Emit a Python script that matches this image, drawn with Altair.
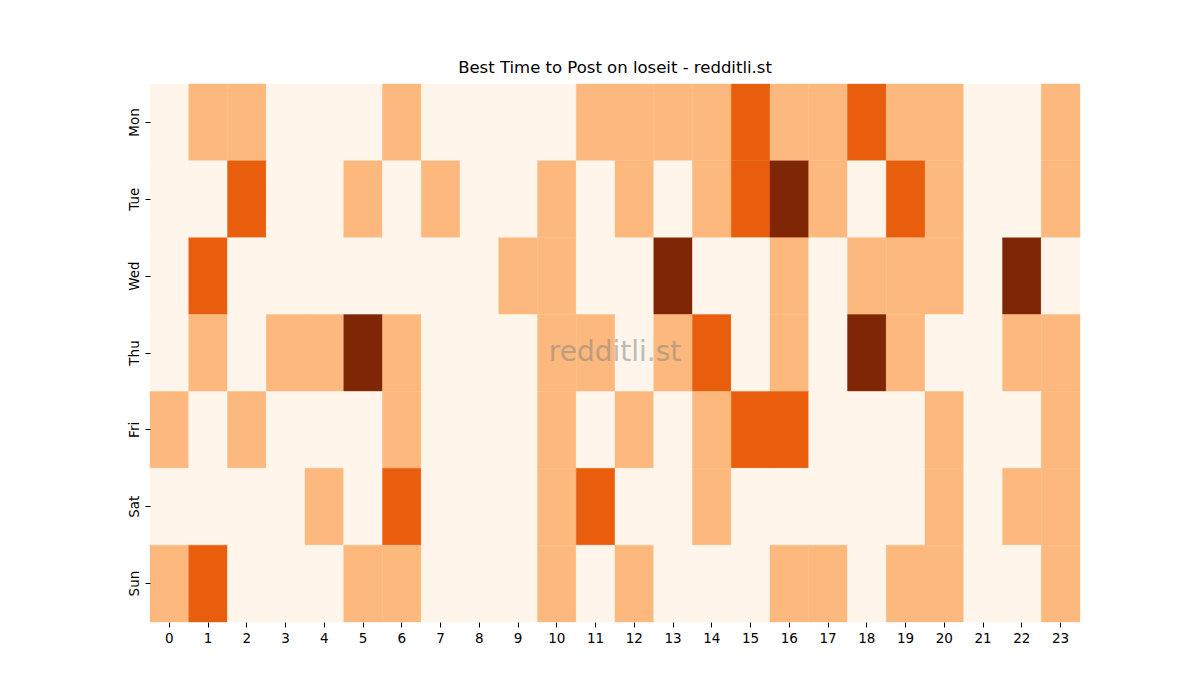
import altair as alt
import pandas as pd

days = ["Mon", "Tue", "Wed", "Thu", "Fri", "Sat", "Sun"]
hours = list(range(24))
# activity level per day (0..3) for hours 0..23
mon = [0,1,1,0,0,0,1,0,0,0,0,1,1,1,1,2,1,1,2,1,1,0,0,1]
tue = [0,0,2,0,0,1,0,1,0,0,1,0,1,0,1,2,3,1,0,2,1,0,0,1]
wed = [0,2,0,0,0,0,0,0,0,1,1,0,0,3,0,0,1,0,1,1,1,0,3,0]
thu = [0,1,0,1,1,3,1,0,0,0,1,1,0,1,2,0,1,0,3,1,0,0,1,1]
fri = [1,0,1,0,0,0,1,0,0,0,1,0,1,0,1,2,2,0,0,0,1,0,0,1]
sat = [0,0,0,0,1,0,2,0,0,0,1,2,0,0,1,0,0,0,0,0,1,0,1,1]
sun = [1,2,0,0,0,1,1,0,0,0,1,0,1,0,0,0,1,1,0,1,1,0,0,1]
levels = [0, 1, 2, 3]
level_colors = ["#fff5eb", "#fdb97d", "#e95e0d", "#7f2704"]

rows = []
for d, vals in zip(days, [mon, tue, wed, thu, fri, sat, sun]):
    for h, v in zip(hours, vals):
        rows.append({"day": d, "hour": h, "level": v})
df = pd.DataFrame(rows)

W, H = 930, 538
font = "DejaVu Sans"

cscale = alt.Scale(domain=levels, range=level_colors)

heat = alt.Chart(df).mark_rect(opacity=1, fillOpacity=1, strokeOpacity=1, strokeWidth=0.4).encode(
    x=alt.X("hour:O", sort=hours, title=None,
            scale=alt.Scale(paddingInner=0, paddingOuter=0),
            axis=alt.Axis(labelAngle=0, domain=False, tickSize=5, tickColor="#000",
                          labelFont=font, labelFontSize=13.5, labelColor="#000",
                          labelPadding=4)),
    y=alt.Y("day:O", sort=days, title=None,
            scale=alt.Scale(paddingInner=0, paddingOuter=0),
            axis=alt.Axis(labelAngle=-90, labelAlign="center", labelBaseline="bottom",
                          domain=False, tickSize=5, tickColor="#000",
                          labelFont=font, labelFontSize=13.5, labelColor="#000",
                          labelPadding=4)),
    color=alt.Color("level:O", scale=cscale, legend=None),
    stroke=alt.Stroke("level:O", scale=cscale, legend=None),
)

wm = alt.Chart(pd.DataFrame({"t": ["redditli.st"]})).mark_text(
    font=font, fontSize=28, color="#808080", opacity=0.5,
    align="center", baseline="middle"
).encode(x=alt.value(W / 2), y=alt.value(H / 2), text="t:N")

chart = alt.layer(heat, wm).properties(
    width=W, height=H,
    title=alt.TitleParams("Best Time to Post on loseit - redditli.st",
                          font=font, fontSize=16.5, fontWeight="normal",
                          color="#000", offset=7),
    autosize=alt.AutoSizeParams(type="none"),
    padding={"left": 150, "top": 84, "right": 120, "bottom": 78},
).configure_view(stroke=None)

chart.save("out.html", embed_options={"renderer": "svg", "actions": False})
